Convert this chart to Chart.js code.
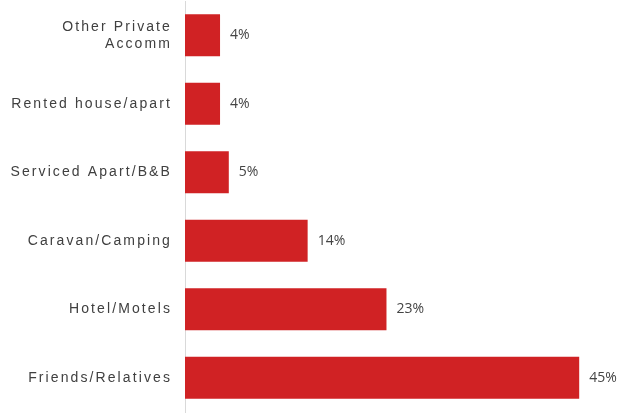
<!DOCTYPE html>
<html>
<head>
<meta charset="utf-8">
<script src="https://cdn.jsdelivr.net/npm/chart.js@4"></script>
<style>
  body { margin: 0; background: #fff; }
  #wrap { width: 627px; height: 413px; }
</style>
</head>
<body>
<div id="wrap"><canvas id="accommChart"></canvas></div>
<script>
// Accommodation type, share of visitor nights (%)
const categories = [
    ['Other Private', 'Accomm'],
    'Rented house/apart',
    'Serviced Apart/B&B',
    'Caravan/Camping',
    'Hotel/Motels',
    'Friends/Relatives'
];
const shares = [4, 4, 5, 14, 23, 45];

// Spaced-out category labels (set before the scales draw)
const labelSpacing = {
    id: 'labelSpacing',
    beforeDraw(chart) {
        chart.ctx.letterSpacing = '2.1px';
    }
};

// Percent labels to the right of each bar
const valueLabels = {
    id: 'valueLabels',
    afterDatasetsDraw(chart) {
        const ctx = chart.ctx;
        const meta = chart.getDatasetMeta(0);
        ctx.save();
        ctx.letterSpacing = '0px';
        ctx.font = '14px "Open Sans"';
        ctx.fillStyle = '#444444';
        ctx.textAlign = 'left';
        ctx.textBaseline = 'middle';
        meta.data.forEach(function (bar, i) {
            ctx.fillText(shares[i] + '%', bar.x + 10, bar.y);
        });
        ctx.restore();
    }
};

const ctx = document.getElementById('accommChart').getContext('2d');
const accommChart = new Chart(ctx, {
    type: 'bar',
    data: {
        labels: categories,
        datasets: [{
            data: shares,
            backgroundColor: '#D02224',
            borderWidth: 0,
            barPercentage: 0.61,
            categoryPercentage: 1
        }]
    },
    options: {
        indexAxis: 'y',
        responsive: true,
        maintainAspectRatio: false,
        animation: false,
        layout: {
            padding: { left: 10, right: 4, top: 1, bottom: 1 }
        },
        plugins: {
            legend: { display: false },
            tooltip: { enabled: false }
        },
        scales: {
            x: {
                display: false,
                min: 0,
                max: 50
            },
            y: {
                // fixed label column, no extra room above/below the bars
                afterFit(scale) {
                    scale.width = 175;
                    scale.paddingTop = 0;
                    scale.paddingBottom = 0;
                },
                grid: { display: false, drawTicks: false },
                border: { display: true, color: '#d9d9d9', width: 1 },
                ticks: {
                    padding: 13,
                    color: '#404040',
                    font: { family: '"Liberation Sans"', size: 14 }
                }
            }
        }
    },
    plugins: [labelSpacing, valueLabels]
});
</script>
</body>
</html>
